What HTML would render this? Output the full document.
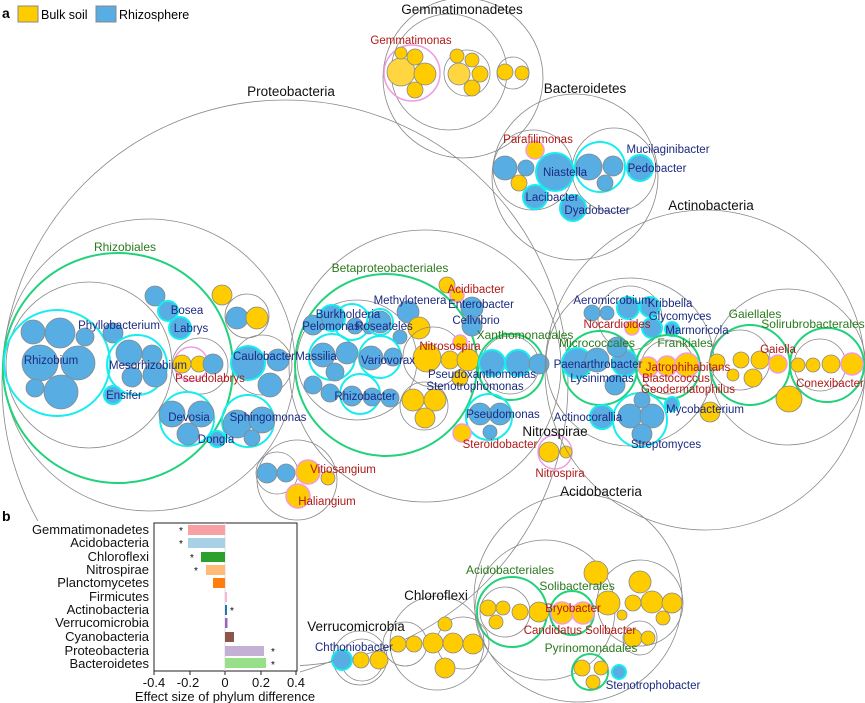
<!DOCTYPE html>
<html><head><meta charset="utf-8"><style>
body{margin:0;background:#fff}
svg{display:block;font-family:"Liberation Sans",sans-serif}
.g{fill:none;stroke:#888;stroke-width:.8}
.y{fill:#fc0;stroke:#888;stroke-width:.8}
.ly{fill:#ffd640;stroke:#888;stroke-width:.8}
.b{fill:#58ade3;stroke:#888;stroke-width:.8}
.c{fill:none;stroke:#18ecf0;stroke-width:2}
.p{fill:none;stroke:#f09be0;stroke-width:1.5}
.gr{fill:none;stroke:#20d27a;stroke-width:2}
.bl{fill:#1c2a80;font-size:11.5px;text-anchor:middle}
.rd{fill:#b01818;font-size:11.5px;text-anchor:middle}
.gn{fill:#2a7a1c;font-size:12px;text-anchor:middle}
.ph{fill:#111;font-size:13.5px;text-anchor:middle}
.lab{font-size:13px;text-anchor:end;fill:#111}
</style></head><body>
<svg width="865" height="703" viewBox="0 0 865 703" xmlns="http://www.w3.org/2000/svg">
<!-- legend -->
<text x="2" y="18" font-size="14" font-weight="bold">a</text>
<rect x="18" y="6" width="20" height="16" fill="#fc0" stroke="#888"/>
<text x="41" y="19" font-size="12.5">Bulk soil</text>
<rect x="96" y="6" width="20" height="16" fill="#58ade3" stroke="#888"/>
<text x="119" y="19" font-size="12.5">Rhizosphere</text>

<!-- Proteobacteria -->
<circle class="g" cx="285" cy="383" r="283"/>
<circle class="g" cx="149" cy="365" r="146"/>
<circle class="gr" cx="118" cy="368" r="115"/>
<circle class="g" cx="89" cy="365" r="83"/>
<circle class="c" cx="57" cy="363" r="53"/>
<circle class="b" cx="33" cy="332" r="12"/><circle class="b" cx="60" cy="333" r="15"/><circle class="b" cx="85" cy="337" r="9"/>
<circle class="b" cx="40" cy="363" r="18"/><circle class="b" cx="78" cy="363" r="17"/><circle class="b" cx="35" cy="388" r="9"/><circle class="b" cx="61" cy="392" r="17"/>
<circle class="b" cx="113" cy="333" r="10"/>
<circle class="c" cx="137" cy="365" r="30"/>
<circle class="b" cx="129" cy="353" r="13"/><circle class="b" cx="152" cy="355" r="10"/><circle class="b" cx="132" cy="377" r="10"/><circle class="b" cx="155" cy="375" r="12"/>
<circle class="b" cx="113" cy="395" r="9"/><circle class="c" cx="113" cy="395" r="9"/>
<circle class="b" cx="155" cy="296" r="10"/>
<circle class="b" cx="168" cy="311" r="10"/><circle class="c" cx="168" cy="311" r="10"/>
<circle class="b" cx="180" cy="328" r="11"/><circle class="c" cx="180" cy="328" r="11"/>
<circle class="g" cx="200" cy="366" r="28"/>
<circle class="p" cx="191" cy="364" r="17"/>
<circle class="y" cx="182" cy="364" r="9"/><circle class="y" cx="199" cy="364" r="8"/><circle class="b" cx="213" cy="364" r="10"/>
<circle class="g" cx="262" cy="365" r="30"/>
<circle class="b" cx="248" cy="363" r="17"/><circle class="c" cx="248" cy="363" r="17"/><circle class="b" cx="278" cy="360" r="11"/><circle class="b" cx="270" cy="385" r="12"/>
<circle class="g" cx="247" cy="316" r="22"/>
<circle class="b" cx="237" cy="318" r="11"/><circle class="y" cx="257" cy="318" r="11"/><circle class="y" cx="222" cy="295" r="10"/>
<circle class="c" cx="187" cy="419" r="27"/>
<circle class="b" cx="172" cy="414" r="13"/><circle class="b" cx="201" cy="414" r="13"/><circle class="b" cx="188" cy="434" r="11"/>
<circle class="c" cx="248" cy="421" r="26"/>
<circle class="b" cx="237" cy="424" r="14"/><circle class="b" cx="262" cy="420" r="13"/><circle class="b" cx="252" cy="438" r="8"/>
<circle class="b" cx="217" cy="439" r="8"/><circle class="c" cx="217" cy="439" r="8"/>

<!-- Beta/Gamma -->
<circle class="g" cx="425" cy="366" r="136"/>
<circle class="gr" cx="386" cy="365" r="91"/>
<circle class="g" cx="357" cy="360" r="60"/>
<circle class="c" cx="352" cy="322" r="18"/>
<circle class="b" cx="332" cy="318" r="13"/><circle class="c" cx="332" cy="318" r="13"/><circle class="b" cx="313" cy="325" r="10"/><circle class="b" cx="355" cy="326" r="8"/><circle class="b" cx="369" cy="328" r="6"/>
<circle class="c" cx="380" cy="322" r="13"/><circle class="b" cx="380" cy="322" r="11"/><circle class="b" cx="400" cy="337" r="7"/>
<circle class="c" cx="332" cy="357" r="23"/>
<circle class="b" cx="323" cy="355" r="12"/><circle class="b" cx="347" cy="353" r="11"/><circle class="b" cx="335" cy="372" r="9"/>
<circle class="c" cx="380" cy="357" r="21"/>
<circle class="b" cx="371" cy="358" r="12"/><circle class="b" cx="393" cy="357" r="9"/>
<circle class="b" cx="313" cy="385" r="9"/><circle class="b" cx="330" cy="393" r="9"/><circle class="b" cx="390" cy="398" r="9"/>
<circle class="c" cx="360" cy="394" r="20"/>
<circle class="b" cx="352" cy="396" r="10"/><circle class="b" cx="372" cy="397" r="9"/>
<circle class="b" cx="408" cy="312" r="11"/><circle class="y" cx="419" cy="328" r="11"/>
<circle class="g" cx="433" cy="357" r="30"/>
<circle class="y" cx="427" cy="358" r="14"/><circle class="y" cx="450" cy="360" r="9"/><circle class="y" cx="468" cy="360" r="11"/>
<circle class="y" cx="460" cy="342" r="7"/><circle class="p" cx="460" cy="342" r="7"/><circle class="y" cx="460" cy="378" r="8"/>
<circle class="g" cx="424" cy="406" r="24"/>
<circle class="y" cx="413" cy="400" r="11"/><circle class="y" cx="435" cy="400" r="11"/><circle class="y" cx="425" cy="418" r="10"/>
<circle class="y" cx="447" cy="285" r="8"/><circle class="y" cx="457" cy="295" r="7"/><circle class="p" cx="457" cy="295" r="7"/>
<circle class="b" cx="472" cy="308" r="11"/><circle class="b" cx="472" cy="326" r="10"/>
<circle class="gr" cx="511" cy="367" r="33"/>
<circle class="g" cx="510" cy="365" r="29"/>
<circle class="b" cx="492" cy="363" r="13"/><circle class="c" cx="492" cy="363" r="13"/><circle class="b" cx="518" cy="363" r="13"/><circle class="c" cx="518" cy="363" r="13"/><circle class="b" cx="539" cy="364" r="10"/>
<circle class="c" cx="489" cy="417" r="23"/>
<circle class="b" cx="480" cy="414" r="11"/><circle class="b" cx="500" cy="414" r="11"/><circle class="b" cx="490" cy="432" r="7"/>
<circle class="y" cx="462" cy="433" r="9"/><circle class="p" cx="462" cy="433" r="9"/>

<!-- Delta -->
<circle class="g" cx="297" cy="480" r="40"/>
<circle class="g" cx="277" cy="473" r="21"/>
<circle class="b" cx="267" cy="473" r="10"/><circle class="b" cx="286" cy="473" r="9"/>
<circle class="y" cx="308" cy="472" r="12"/><circle class="p" cx="308" cy="472" r="12"/><circle class="y" cx="328" cy="478" r="7"/>
<circle class="y" cx="298" cy="496" r="12"/><circle class="p" cx="298" cy="496" r="12"/>

<!-- Nitrospirae -->
<circle class="p" cx="555" cy="452" r="17"/>
<circle class="y" cx="549" cy="452" r="10"/><circle class="y" cx="566" cy="452" r="6"/>

<!-- Gemmatimonadetes -->
<circle class="g" cx="463" cy="78" r="80"/>
<circle class="g" cx="449" cy="72" r="58"/>
<circle class="p" cx="412" cy="73" r="28"/>
<circle class="ly" cx="401" cy="72" r="14"/><circle class="y" cx="425" cy="74" r="11"/><circle class="y" cx="401" cy="53" r="6"/><circle class="y" cx="415" cy="57" r="8"/><circle class="y" cx="415" cy="90" r="8"/>
<circle class="g" cx="467" cy="73" r="23"/>
<circle class="ly" cx="459" cy="74" r="11"/><circle class="y" cx="480" cy="74" r="8"/><circle class="y" cx="457" cy="56" r="7"/><circle class="y" cx="472" cy="60" r="7"/><circle class="y" cx="472" cy="88" r="8"/>
<circle class="g" cx="513" cy="73" r="16"/>
<circle class="y" cx="505" cy="72" r="8"/><circle class="y" cx="522" cy="73" r="7"/>

<!-- Bacteroidetes -->
<circle class="g" cx="575" cy="177" r="83"/>
<circle class="g" cx="533" cy="170" r="40"/>
<circle class="g" cx="614" cy="170" r="42"/>
<circle class="b" cx="505" cy="168" r="12"/><circle class="b" cx="526" cy="168" r="8"/><circle class="y" cx="519" cy="183" r="8"/>
<circle class="y" cx="535" cy="150" r="9"/><circle class="p" cx="535" cy="150" r="9"/>
<circle class="b" cx="555" cy="172" r="19"/><circle class="c" cx="555" cy="172" r="19"/>
<circle class="b" cx="535" cy="197" r="12"/><circle class="c" cx="535" cy="197" r="12"/>
<circle class="b" cx="573" cy="208" r="13"/><circle class="c" cx="573" cy="208" r="13"/>
<circle class="c" cx="600" cy="167" r="25"/>
<circle class="b" cx="589" cy="167" r="13"/><circle class="b" cx="613" cy="166" r="10"/><circle class="b" cx="605" cy="183" r="8"/>
<circle class="b" cx="640" cy="168" r="13"/><circle class="c" cx="640" cy="168" r="13"/>

<!-- Actinobacteria -->
<circle class="g" cx="705" cy="370" r="160"/>
<circle class="g" cx="630" cy="362" r="84"/>
<circle class="g" cx="630" cy="318" r="32"/>
<circle class="b" cx="592" cy="313" r="8"/><circle class="b" cx="607" cy="313" r="7"/>
<circle class="b" cx="628" cy="308" r="11"/><circle class="c" cx="628" cy="308" r="11"/><circle class="b" cx="650" cy="307" r="10"/><circle class="c" cx="650" cy="307" r="10"/>
<circle class="y" cx="632" cy="328" r="7"/><circle class="p" cx="632" cy="328" r="7"/>
<circle class="b" cx="652" cy="328" r="10"/><circle class="c" cx="652" cy="328" r="10"/>
<circle class="b" cx="672" cy="329" r="7"/><circle class="c" cx="672" cy="329" r="7"/>
<circle class="gr" cx="600" cy="368" r="37"/>
<circle class="b" cx="577" cy="363" r="15"/><circle class="c" cx="577" cy="363" r="15"/><circle class="b" cx="597" cy="360" r="12"/>
<circle class="b" cx="625" cy="363" r="13"/><circle class="c" cx="625" cy="363" r="13"/><circle class="b" cx="617" cy="347" r="10"/><circle class="b" cx="615" cy="385" r="10"/>
<circle class="gr" cx="668" cy="367" r="32"/>
<circle class="g" cx="668" cy="367" r="27"/>
<circle class="y" cx="648" cy="367" r="10"/><circle class="p" cx="648" cy="367" r="10"/>
<circle class="y" cx="667" cy="366" r="10"/><circle class="p" cx="667" cy="366" r="10"/>
<circle class="y" cx="687" cy="365" r="12"/><circle class="p" cx="687" cy="365" r="12"/>
<circle class="c" cx="640" cy="420" r="27"/>
<circle class="b" cx="630" cy="416" r="12"/><circle class="b" cx="652" cy="416" r="12"/><circle class="b" cx="642" cy="400" r="8"/><circle class="b" cx="642" cy="434" r="10"/>
<circle class="b" cx="602" cy="417" r="12"/><circle class="c" cx="602" cy="417" r="12"/>
<circle class="b" cx="672" cy="404" r="7"/><circle class="c" cx="672" cy="404" r="7"/>
<circle class="y" cx="710" cy="412" r="10"/>
<circle class="g" cx="788" cy="367" r="78"/>
<circle class="gr" cx="750" cy="365" r="40"/>
<circle class="g" cx="740" cy="360" r="30"/>
<circle class="y" cx="717" cy="362" r="8"/><circle class="y" cx="741" cy="360" r="8"/><circle class="y" cx="760" cy="360" r="9"/><circle class="y" cx="733" cy="375" r="6"/><circle class="y" cx="753" cy="378" r="9"/>
<circle class="y" cx="778" cy="364" r="9"/><circle class="p" cx="778" cy="364" r="9"/>
<circle class="gr" cx="827" cy="365" r="37"/>
<circle class="g" cx="820" cy="365" r="26"/>
<circle class="y" cx="798" cy="365" r="7"/><circle class="y" cx="813" cy="365" r="7"/><circle class="y" cx="831" cy="364" r="9"/>
<circle class="y" cx="852" cy="364" r="11"/><circle class="p" cx="852" cy="364" r="11"/>
<circle class="y" cx="789" cy="399" r="13"/>

<!-- Acidobacteria -->
<circle class="g" cx="578" cy="598" r="104"/>
<circle class="g" cx="545" cy="610" r="70"/>
<circle class="gr" cx="512" cy="612" r="35"/>
<circle class="g" cx="505" cy="612" r="25"/>
<circle class="y" cx="488" cy="608" r="8"/><circle class="y" cx="503" cy="608" r="7"/><circle class="y" cx="496" cy="622" r="7"/><circle class="y" cx="520" cy="612" r="8"/><circle class="y" cx="539" cy="612" r="10"/>
<circle class="gr" cx="572" cy="613" r="22"/>
<circle class="y" cx="562" cy="613" r="11"/><circle class="p" cx="562" cy="613" r="11"/><circle class="y" cx="583" cy="613" r="11"/><circle class="p" cx="583" cy="613" r="11"/>
<circle class="g" cx="640" cy="603" r="43"/>
<circle class="y" cx="608" cy="603" r="12"/><circle class="y" cx="633" cy="603" r="8"/><circle class="y" cx="652" cy="602" r="11"/><circle class="y" cx="672" cy="603" r="10"/><circle class="y" cx="622" cy="615" r="5"/><circle class="y" cx="663" cy="618" r="7"/><circle class="y" cx="640" cy="582" r="11"/>
<circle class="y" cx="596" cy="573" r="12"/>
<circle class="g" cx="640" cy="638" r="17"/>
<circle class="y" cx="633" cy="638" r="9"/><circle class="y" cx="648" cy="638" r="7"/>
<circle class="gr" cx="590" cy="672" r="18"/>
<circle class="y" cx="582" cy="668" r="8"/><circle class="y" cx="601" cy="668" r="7"/><circle class="y" cx="593" cy="682" r="7"/>
<circle class="b" cx="619" cy="672" r="7"/><circle class="c" cx="619" cy="672" r="7"/>

<!-- Chloroflexi -->
<circle class="g" cx="437" cy="643" r="47"/>
<circle class="g" cx="405" cy="644" r="22"/>
<circle class="g" cx="463" cy="643" r="26"/>
<circle class="y" cx="398" cy="644" r="8"/><circle class="y" cx="414" cy="644" r="8"/><circle class="y" cx="433" cy="643" r="10"/><circle class="y" cx="453" cy="643" r="10"/><circle class="y" cx="473" cy="644" r="10"/><circle class="y" cx="445" cy="624" r="7"/><circle class="y" cx="445" cy="668" r="10"/>
<!-- Verrucomicrobia -->
<circle class="g" cx="360" cy="658" r="27"/>
<circle class="g" cx="362" cy="660" r="21"/>
<circle class="b" cx="342" cy="660" r="10"/><circle class="c" cx="342" cy="660" r="10"/><circle class="y" cx="361" cy="660" r="8"/><circle class="y" cx="379" cy="660" r="9"/>
<path class="g" d="M300 672 Q320 666 334 660"/>

<!-- Labels -->
<text class="ph" x="462" y="14">Gemmatimonadetes</text>
<text class="rd" x="411" y="44">Gemmatimonas</text>
<text class="ph" x="585" y="93">Bacteroidetes</text>
<text class="rd" x="538" y="143">Parafilimonas</text>
<text class="bl" x="668" y="153">Mucilaginibacter</text>
<text class="bl" x="565" y="176">Niastella</text>
<text class="bl" x="657" y="172">Pedobacter</text>
<text class="bl" x="552" y="201">Lacibacter</text>
<text class="bl" x="597" y="214">Dyadobacter</text>
<text class="ph" x="291" y="96">Proteobacteria</text>
<text class="ph" x="711" y="210">Actinobacteria</text>
<text class="gn" x="125" y="251">Rhizobiales</text>
<text class="bl" x="187" y="314">Bosea</text>
<text class="bl" x="119" y="329">Phyllobacterium</text>
<text class="bl" x="191" y="332">Labrys</text>
<text class="bl" x="51" y="364">Rhizobium</text>
<text class="bl" x="148" y="369">Mesorhizobium</text>
<text class="bl" x="264" y="360">Caulobacter</text>
<text class="rd" x="210" y="382">Pseudolabrys</text>
<text class="bl" x="124" y="399">Ensifer</text>
<text class="bl" x="189" y="421">Devosia</text>
<text class="bl" x="268" y="421">Sphingomonas</text>
<text class="bl" x="216" y="443">Dongla</text>
<text class="gn" x="390" y="272">Betaproteobacteriales</text>
<text class="rd" x="476" y="293">Acidibacter</text>
<text class="bl" x="410" y="304">Methylotenera</text>
<text class="bl" x="481" y="308">Enterobacter</text>
<text class="bl" x="348" y="318">Burkholderia</text>
<text class="bl" x="331" y="330">Pelomonas</text>
<text class="bl" x="384" y="330">Roseateles</text>
<text class="bl" x="476" y="324">Cellvibrio</text>
<text class="gn" x="525" y="339">Xanthomonadales</text>
<text class="rd" x="450" y="350">Nitrosospira</text>
<text class="bl" x="316" y="360">Massilia</text>
<text class="bl" x="388" y="364">Variovorax</text>
<text class="bl" x="482" y="378">Pseudoxanthomonas</text>
<text class="bl" x="475" y="390">Stenotrophomonas</text>
<text class="bl" x="365" y="400">Rhizobacter</text>
<text class="bl" x="503" y="418">Pseudomonas</text>
<text class="rd" x="500" y="448">Steroidobacter</text>
<text class="ph" x="555" y="436">Nitrospirae</text>
<text class="rd" x="560" y="477">Nitrospira</text>
<text class="rd" x="343" y="473">Vitiosangium</text>
<text class="rd" x="327" y="505">Haliangium</text>
<text class="bl" x="612" y="304">Aeromicrobium</text>
<text class="bl" x="670" y="307">Kribbella</text>
<text class="bl" x="680" y="320">Glycomyces</text>
<text class="rd" x="617" y="328">Nocardioides</text>
<text class="bl" x="697" y="334">Marmoricola</text>
<text class="gn" x="597" y="347">Micrococcales</text>
<text class="gn" x="685" y="347">Frankiales</text>
<text class="bl" x="598" y="368">Paenarthrobacter</text>
<text class="bl" x="602" y="382">Lysinimonas</text>
<text class="rd" x="688" y="371">Jatrophihabitans</text>
<text class="rd" x="676" y="382">Blastococcus</text>
<text class="rd" x="688" y="393">Geodermatophilus</text>
<text class="bl" x="705" y="413">Mycobacterium</text>
<text class="bl" x="588" y="421">Actinocorallia</text>
<text class="bl" x="666" y="448">Streptomyces</text>
<text class="gn" x="755" y="318">Gaiellales</text>
<text class="gn" x="813" y="328">Solirubrobacterales</text>
<text class="rd" x="778" y="353">Gaiella</text>
<text class="rd" x="830" y="387">Conexibacter</text>
<text class="ph" x="601" y="496">Acidobacteria</text>
<text class="gn" x="510" y="574">Acidobacteriales</text>
<text class="gn" x="577" y="590">Solibacterales</text>
<text class="rd" x="573" y="612">Bryobacter</text>
<text class="rd" x="580" y="634">Candidatus Solibacter</text>
<text class="gn" x="591" y="652">Pyrinomonadales</text>
<text class="bl" x="653" y="689">Stenotrophobacter</text>
<text class="ph" x="436" y="600">Chloroflexi</text>
<text class="ph" x="356" y="631">Verrucomicrobia</text>
<text class="bl" x="354" y="651">Chthoniobacter</text>

<!-- Bar chart -->
<rect x="0" y="521" width="300" height="182" fill="#fff"/>
<text x="2" y="521" font-size="14" font-weight="bold">b</text>
<rect x="154" y="523" width="143" height="148" fill="#fff" stroke="#222" stroke-width="1"/>
<line x1="225" y1="523" x2="225" y2="671" stroke="#ddd" stroke-width="1"/>
<rect x="188" y="525" width="37" height="10" fill="#f8a1a4"/>
<rect x="188" y="538" width="37" height="10" fill="#a8d0e6"/>
<rect x="201" y="552" width="24" height="10" fill="#2ca02c"/>
<rect x="206" y="565" width="19" height="10" fill="#ffbb78"/>
<rect x="213" y="578" width="12" height="10" fill="#ff7f0e"/>
<rect x="225" y="592" width="2" height="10" fill="#f7b6d2"/>
<rect x="225" y="605" width="2" height="10" fill="#1f77b4"/>
<rect x="225" y="618" width="2.5" height="10" fill="#9467bd"/>
<rect x="225" y="632" width="9" height="10" fill="#8c564b"/>
<rect x="225" y="646" width="39" height="10" fill="#c5b0d5"/>
<rect x="225" y="658" width="41" height="10" fill="#98df8a"/>
<g font-size="10" text-anchor="middle">
<text x="181" y="534">*</text><text x="181" y="547">*</text><text x="192" y="561">*</text><text x="196" y="574">*</text>
<text x="232" y="614">*</text><text x="273" y="655">*</text><text x="273" y="668">*</text></g>
<g class="lab">
<text x="149" y="534">Gemmatimonadetes</text>
<text x="149" y="547">Acidobacteria</text>
<text x="149" y="561">Chloroflexi</text>
<text x="149" y="574">Nitrospirae</text>
<text x="149" y="587">Planctomycetes</text>
<text x="149" y="601">Firmicutes</text>
<text x="149" y="614">Actinobacteria</text>
<text x="149" y="627">Verrucomicrobia</text>
<text x="149" y="641">Cyanobacteria</text>
<text x="149" y="655">Proteobacteria</text>
<text x="149" y="668">Bacteroidetes</text>
</g>
<g stroke="#222"><line x1="154" y1="671" x2="154" y2="675"/><line x1="190" y1="671" x2="190" y2="675"/><line x1="225" y1="671" x2="225" y2="675"/><line x1="261" y1="671" x2="261" y2="675"/><line x1="296" y1="671" x2="296" y2="675"/></g>
<g font-size="13" text-anchor="middle" fill="#111">
<text x="154" y="687">-0.4</text><text x="188" y="687">-0.2</text><text x="225" y="687">0</text><text x="261" y="687">0.2</text><text x="296" y="687">0.4</text>
<text x="225" y="701">Effect size of phylum difference</text></g>
</svg>
</body></html>
